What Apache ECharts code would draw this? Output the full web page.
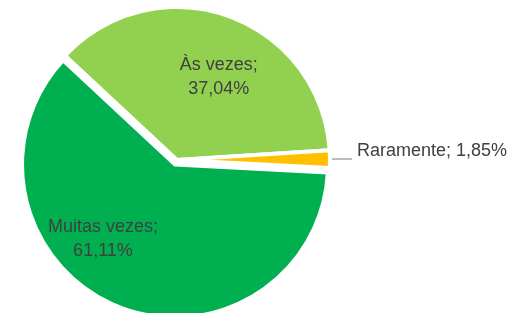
<!DOCTYPE html>
<html>
<head>
<meta charset="utf-8">
<script src="https://cdn.jsdelivr.net/npm/echarts@6/dist/echarts.min.js"></script>
<style>
  html, body { margin: 0; padding: 0; background: #fff; }
  #chart { width: 513px; height: 313px; }
</style>
</head>
<body>
<div id="chart"></div>
<script>
// dados do gráfico
var categories = ["Às vezes", "Raramente", "Muitas vezes"];
var values = [37.04, 1.85, 61.11];
var colors = ["#92d050", "#ffc000", "#00b050"];

var mychart = echarts.init(document.getElementById("chart"));

// deslocamento dos rótulos como no Excel
var labelShift = [
  { dx: 15, dy: -8 },
  { dy: -8 },
  { dx: -41, dy: 1 }
];

var data = categories.map(function (name, i) {
  return {
    name: name,
    value: values[i],
    selected: i === 2, // fatia destacada
    itemStyle: { color: colors[i] },
    label: { position: i === 1 ? "outside" : "inside" }
  };
});

var option = {
  animation: false,
  series: [
    {
      type: "pie",
      center: [177, 160],
      radius: [0, 153],
      startAngle: 137,
      clockwise: true,
      selectedMode: "single",
      selectedOffset: 5,
      select: { itemStyle: { borderColor: "#fff", borderWidth: 4 } },
      emphasis: { disabled: true },
      itemStyle: { borderColor: "#fff", borderWidth: 4 },
      label: {
        color: "#404040",
        fontFamily: "Liberation Sans, Arial, sans-serif",
        fontSize: 18,
        lineHeight: 24,
        overflow: "none",
        formatter: function (p) {
          var v = p.value.toFixed(2).replace(".", ",") + "%";
          if (p.name === "Raramente") return p.name + "; " + v;
          return p.name + ";\n" + v;
        }
      },
      labelLine: {
        show: true,
        length: 6,
        length2: 16,
        lineStyle: { color: "#a6a6a6", width: 1.5 }
      },
      labelLayout: function (p) {
        return labelShift[p.dataIndex];
      },
      data: data
    }
  ]
};
mychart.setOption(option);
</script>
</body>
</html>
